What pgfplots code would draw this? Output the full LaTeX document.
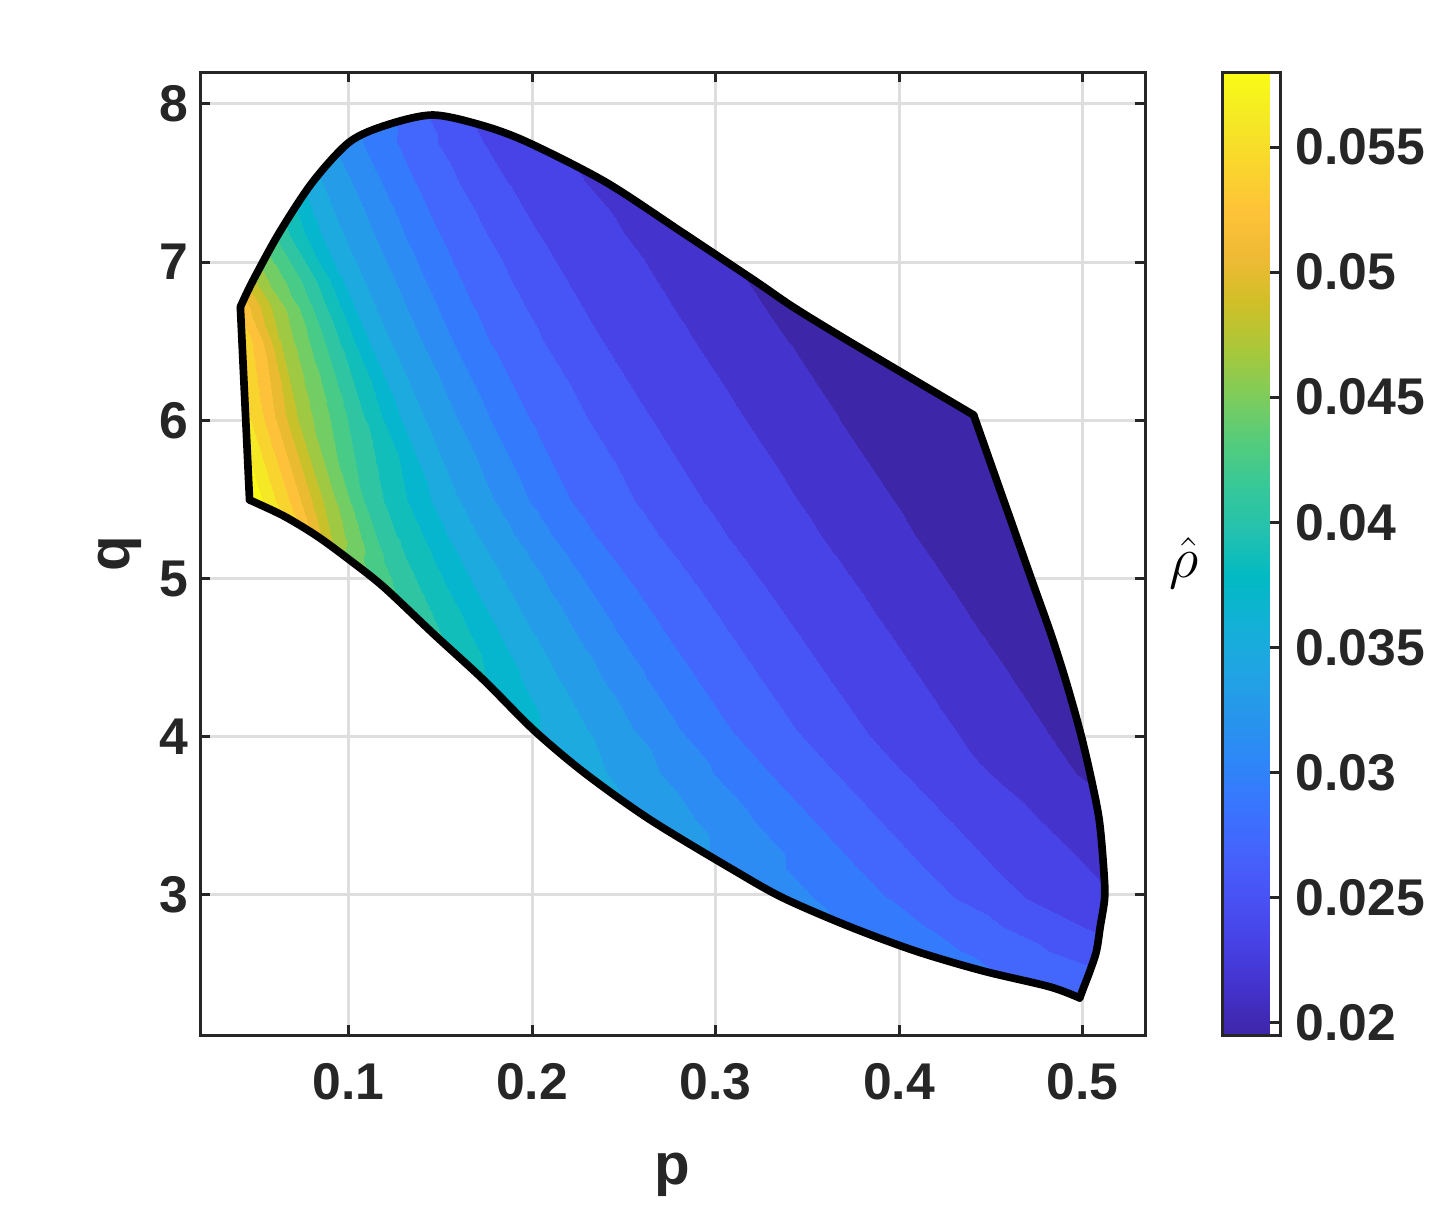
\documentclass[border=0pt]{standalone}
\usepackage{fontspec}
\setmainfont{Liberation Sans}
\usepackage{pgfplots}
\pgfplotsset{compat=1.18}

% parula, sampled at the 20 contour levels (for the filled bands)
\pgfplotsset{
  colormap={paruladisc}{rgb255=(62,38,168) rgb255=(68,51,204) rgb255=(71,67,231) rgb255=(71,85,246)
    rgb255=(67,103,253) rgb255=(52,122,253) rgb255=(45,140,243) rgb255=(37,156,231) rgb255=(28,170,223)
    rgb255=(5,182,206) rgb255=(18,190,185) rgb255=(47,197,162) rgb255=(72,203,134) rgb255=(113,205,100)
    rgb255=(159,201,66) rgb255=(200,193,41) rgb255=(234,186,49) rgb255=(254,193,58) rgb255=(250,212,46)
    rgb255=(245,232,37) rgb255=(249,251,21)},
  colormap={parula}{rgb255=(62,38,168) rgb255=(67,50,203) rgb255=(71,65,229) rgb255=(72,82,244)
    rgb255=(69,99,253) rgb255=(56,117,254) rgb255=(46,135,247) rgb255=(39,150,235) rgb255=(32,165,227)
    rgb255=(18,177,214) rgb255=(2,186,195) rgb255=(36,193,174) rgb255=(55,200,151) rgb255=(87,204,122)
    rgb255=(129,204,89) rgb255=(171,199,57) rgb255=(209,191,39) rgb255=(240,186,54) rgb255=(254,195,56)
    rgb255=(250,214,45) rgb255=(245,233,36) rgb255=(249,251,21)},
  /pgf/number format/assume math mode=true,
  outline/.style={black, line width=2.3pt, line join=round, line cap=round, smooth, tension=0.5},
}

\begin{document}
\begin{tikzpicture}
% page = the reference frame (axis box lower left sits at the origin)
\useasboundingbox (-60pt,-56.4pt) rectangle ++(430.5pt,366.9pt);
\begin{axis}[
  scale only axis,
  width=283.5pt, height=288.9pt,
  xmin=0.019, xmax=0.534, ymin=2.115, ymax=8.202,
  xtick={0.1,0.2,0.3,0.4,0.5}, ytick={3,4,5,6,7,8},
  grid=major,
  grid style={line width=0.9pt, color=black!13},
  axis line style={line width=0.9pt, color=black!85},
  every tick/.style={line width=0.9pt, color=black!85},
  tick align=inside, major tick length=3pt,
  tick label style={font=\bfseries\fontsize{15.5}{18}\selectfont, text=black!85},
  xticklabel style={yshift=-5pt},
  xlabel={p}, ylabel={q},
  label style={font=\bfseries\fontsize{17.5}{20}\selectfont, text=black!85},
  xlabel style={at={(axis description cs:0.5,-0.1454)}, anchor=center},
  ylabel style={at={(axis description cs:-0.0847,0.5)}, anchor=center},
  point meta min=0.0195, point meta max=0.058,
  colormap name=parula,
  colorbar,
  colorbar style={
    at={(parent axis.north east)}, anchor=north west, xshift=14.7pt,
    width=17.4pt,
    colormap name=parula,
    ytick={0.02,0.025,0.03,0.035,0.04,0.045,0.05,0.055},
    scaled y ticks=false,
    ytick pos=right,
    yticklabel style={/pgf/number format/fixed, /pgf/number format/precision=3,
      font=\bfseries\fontsize{15.5}{18}\selectfont, text=black!85, xshift=1pt},
    tick align=inside, major tick length=3pt,
    axis line style={line width=0.9pt, color=black!85},
    every tick/.style={line width=0.9pt, color=black!85},
    ylabel={$\hat{\rho}$},
    every axis y label/.style={at={(axis description cs:-0.66,0.49)}, anchor=center,
      font=\fontsize{19}{19}\selectfont},
  },
]
% rho on a mesh of constant-q rows (9 nodes per row, left boundary to right boundary)
\addplot[surf, shader=interp, point meta=explicit, mesh/rows=26, mesh/cols=9,
  colormap name=paruladisc, colormap access=piecewise constant] coordinates {
(0.4984,2.349) [0.02778] (0.4984,2.349) [0.02778] (0.4984,2.349) [0.02778] (0.4984,2.349) [0.02778] (0.4984,2.349) [0.02778] (0.4984,2.349) [0.02778] (0.4984,2.349) [0.02778] (0.4984,2.349) [0.02778] (0.4984,2.349) [0.02778]
(0.482,2.42) [0.02816] (0.482,2.42) [0.02816] (0.482,2.42) [0.02816] (0.482,2.42) [0.02816] (0.482,2.42) [0.02816] (0.482,2.42) [0.02816] (0.5007,2.42) [0.02759] (0.5007,2.42) [0.02759] (0.5007,2.42) [0.02759]
(0.4457,2.52) [0.02884] (0.4457,2.52) [0.02884] (0.4457,2.52) [0.02884] (0.4457,2.52) [0.02884] (0.4457,2.52) [0.02884] (0.4457,2.52) [0.02884] (0.504,2.52) [0.0271] (0.504,2.52) [0.0271] (0.504,2.52) [0.0271]
(0.4094,2.644) [0.02951] (0.4094,2.644) [0.02951] (0.4094,2.644) [0.02951] (0.4094,2.644) [0.02951] (0.4094,2.644) [0.02951] (0.421,2.644) [0.029125] (0.5075,2.644) [0.02585] (0.5075,2.644) [0.02585] (0.5075,2.644) [0.02585]
(0.373,2.8) [0.03028] (0.373,2.8) [0.03028] (0.373,2.8) [0.03028] (0.373,2.8) [0.03028] (0.373,2.8) [0.03028] (0.404,2.8) [0.029125] (0.4924,2.8) [0.025275] (0.5096,2.8) [0.02468] (0.5096,2.8) [0.02468]
(0.3367,2.982) [0.03124] (0.3367,2.982) [0.03124] (0.3367,2.982) [0.03124] (0.3367,2.982) [0.03124] (0.3367,2.982) [0.03124] (0.384,2.982) [0.029125] (0.4615,2.982) [0.025275] (0.512,2.982) [0.02339] (0.512,2.982) [0.02339]
(0.3091,3.162) [0.03182] (0.3091,3.162) [0.03182] (0.3091,3.162) [0.03182] (0.3091,3.162) [0.03182] (0.3091,3.162) [0.03182] (0.3691,3.162) [0.029125] (0.4452,3.162) [0.025275] (0.5115,3.162) [0.02287] (0.5115,3.162) [0.02287]
(0.264,3.478) [0.03375] (0.264,3.478) [0.03375] (0.264,3.478) [0.03375] (0.264,3.478) [0.03375] (0.264,3.478) [0.03375] (0.3439,3.478) [0.029125] (0.4196,3.478) [0.025275] (0.509,3.478) [0.02195] (0.509,3.478) [0.02195]
(0.2286,3.771) [0.0349] (0.2286,3.771) [0.0349] (0.2286,3.771) [0.0349] (0.2286,3.771) [0.0349] (0.2286,3.771) [0.0349] (0.3204,3.771) [0.029125] (0.3957,3.771) [0.025275] (0.4931,3.771) [0.021425] (0.504,3.771) [0.02108]
(0.2008,4.043) [0.03625] (0.2008,4.043) [0.03625] (0.2008,4.043) [0.03625] (0.2008,4.043) [0.03625] (0.22,4.043) [0.0349] (0.2996,4.043) [0.029125] (0.3745,4.043) [0.025275] (0.4775,4.043) [0.021425] (0.4984,4.043) [0.02073]
(0.1736,4.359) [0.03798] (0.1736,4.359) [0.03798] (0.1736,4.359) [0.03798] (0.1736,4.359) [0.03798] (0.2052,4.359) [0.0349] (0.2812,4.359) [0.029125] (0.3554,4.359) [0.025275] (0.4593,4.359) [0.021425] (0.4907,4.359) [0.02039]
(0.1463,4.65) [0.0401] (0.1463,4.65) [0.0401] (0.1463,4.65) [0.0401] (0.1463,4.65) [0.0401] (0.1916,4.65) [0.0349] (0.2643,4.65) [0.029125] (0.3378,4.65) [0.025275] (0.4425,4.65) [0.021425] (0.4827,4.65) [0.02006]
(0.1191,4.947) [0.04222] (0.1191,4.947) [0.04222] (0.1191,4.947) [0.04222] (0.13,4.947) [0.040675] (0.1778,4.947) [0.0349] (0.2471,4.947) [0.029125] (0.3198,4.947) [0.025275] (0.4255,4.947) [0.021425] (0.4736,4.947) [0.01973]
(0.1005,5.118) [0.044525] (0.1005,5.118) [0.044525] (0.1005,5.118) [0.044525] (0.1239,5.118) [0.040675] (0.1699,5.118) [0.0349] (0.2365,5.118) [0.029125] (0.3091,5.118) [0.025275] (0.4156,5.118) [0.021425] (0.4684,5.118) [0.0196]
(0.0826,5.27) [0.049915] (0.0826,5.27) [0.049915] (0.092,5.27) [0.04645] (0.1186,5.27) [0.040675] (0.1623,5.27) [0.0349] (0.2261,5.27) [0.029125] (0.2987,5.27) [0.025275] (0.4062,5.27) [0.021425] (0.4638,5.27) [0.0195]
(0.0646,5.396) [0.05473] (0.0716,5.396) [0.052225] (0.0899,5.396) [0.04645] (0.1148,5.396) [0.040675] (0.1571,5.396) [0.0349] (0.2189,5.396) [0.029125] (0.2915,5.396) [0.025275] (0.3997,5.396) [0.021425] (0.46,5.396) [0.0195]
(0.046,5.497) [0.05781] (0.0688,5.497) [0.052225] (0.0878,5.497) [0.04645] (0.1114,5.497) [0.040675] (0.1523,5.497) [0.0349] (0.2123,5.497) [0.029125] (0.2849,5.497) [0.025275] (0.3938,5.497) [0.021425] (0.4569,5.497) [0.0195]
(0.0438,6.034) [0.05473] (0.0545,6.034) [0.052225] (0.0735,6.034) [0.04645] (0.103,6.034) [0.040675] (0.1332,6.034) [0.0349] (0.1896,6.034) [0.029125] (0.2562,6.034) [0.025275] (0.363,6.034) [0.021425] (0.4406,6.034) [0.0195]
(0.0419,6.5) [0.05338] (0.0489,6.5) [0.052225] (0.0643,6.5) [0.04645] (0.0902,6.5) [0.040675] (0.1162,6.5) [0.0349] (0.1694,6.5) [0.029125] (0.2308,6.5) [0.025275] (0.3362,6.5) [0.021425] (0.3727,6.5) [0.02025]
(0.041,6.717) [0.052225] (0.041,6.717) [0.052225] (0.06,6.717) [0.04645] (0.0837,6.717) [0.040675] (0.108,6.717) [0.0349] (0.161,6.717) [0.029125] (0.2199,6.717) [0.025275] (0.3237,6.717) [0.021425] (0.3422,6.717) [0.02083]
(0.0477,6.88) [0.04741] (0.0477,6.88) [0.04741] (0.05,6.88) [0.04645] (0.0785,6.88) [0.040675] (0.1018,6.88) [0.0349] (0.1546,6.88) [0.029125] (0.2117,6.88) [0.025275] (0.3143,6.88) [0.021425] (0.3217,6.88) [0.02119]
(0.0624,7.19) [0.040675] (0.0624,7.19) [0.040675] (0.0624,7.19) [0.040675] (0.0624,7.19) [0.040675] (0.09,7.19) [0.0349] (0.1426,7.19) [0.029125] (0.1961,7.19) [0.025275] (0.2816,7.19) [0.02191] (0.2816,7.19) [0.02191]
(0.0804,7.507) [0.03471] (0.0804,7.507) [0.03471] (0.0804,7.507) [0.03471] (0.0804,7.507) [0.03471] (0.0804,7.507) [0.03471] (0.1302,7.507) [0.029125] (0.1801,7.507) [0.025275] (0.24,7.507) [0.02268] (0.24,7.507) [0.02268]
(0.1005,7.76) [0.03124] (0.1005,7.76) [0.03124] (0.1005,7.76) [0.03124] (0.1005,7.76) [0.03124] (0.1005,7.76) [0.03124] (0.1204,7.76) [0.029125] (0.1675,7.76) [0.025275] (0.1972,7.76) [0.02393] (0.1972,7.76) [0.02393]
(0.1207,7.867) [0.029125] (0.1207,7.867) [0.029125] (0.1207,7.867) [0.029125] (0.1207,7.867) [0.029125] (0.1207,7.867) [0.029125] (0.1207,7.867) [0.029125] (0.1622,7.867) [0.025275] (0.1721,7.867) [0.02478] (0.1721,7.867) [0.02478]
(0.1458,7.93) [0.02662] (0.1458,7.93) [0.02662] (0.1458,7.93) [0.02662] (0.1458,7.93) [0.02662] (0.1458,7.93) [0.02662] (0.1458,7.93) [0.02662] (0.1458,7.93) [0.02662] (0.1458,7.93) [0.02662] (0.1458,7.93) [0.02662]
};
% region outline: lower curve, left edge, upper curve, right edge
\addplot[outline] coordinates {
(0.4984,2.349) (0.482,2.42) (0.4457,2.52) (0.4094,2.644) (0.373,2.8) (0.3367,2.982)
(0.3091,3.162) (0.264,3.478) (0.2286,3.771) (0.2008,4.043) (0.1736,4.359) (0.1463,4.65)
(0.1191,4.947) (0.1005,5.118) (0.0826,5.27) (0.0646,5.396) (0.046,5.497)
};
\addplot[outline, sharp plot] coordinates {(0.046,5.497) (0.041,6.717)};
\addplot[outline] coordinates {
(0.041,6.717) (0.0477,6.88) (0.0624,7.19) (0.0804,7.507) (0.1005,7.76)
(0.1207,7.867) (0.1458,7.93) (0.1721,7.867) (0.1972,7.76) (0.24,7.507) (0.2816,7.19)
(0.3217,6.88) (0.3422,6.717) (0.3727,6.5) (0.4406,6.034)
};
\addplot[outline] coordinates {
(0.4406,6.034) (0.4569,5.497) (0.46,5.396)
(0.4638,5.27) (0.4684,5.118) (0.4736,4.947) (0.4827,4.65) (0.4907,4.359) (0.4984,4.043)
(0.504,3.771) (0.509,3.478) (0.5115,3.162) (0.512,2.982) (0.5096,2.8) (0.5075,2.644)
(0.504,2.52) (0.5007,2.42) (0.4984,2.349)
};
\end{axis}
\end{tikzpicture}
\end{document}
